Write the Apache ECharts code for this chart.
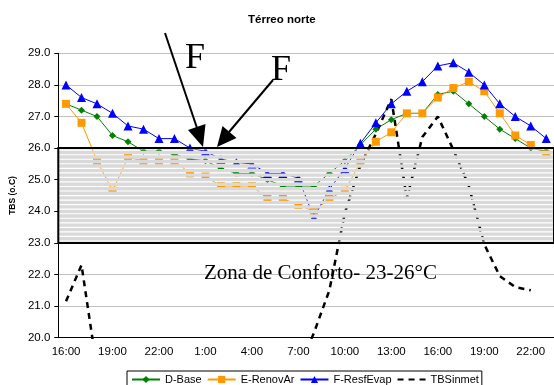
<!DOCTYPE html>
<html><head><meta charset="utf-8">
<script src="https://cdn.jsdelivr.net/npm/echarts@6/dist/echarts.min.js"></script>
<style>html,body{margin:0;padding:0;background:#fff}#c{width:554px;height:385px}</style>
</head><body><div id="c"></div>
<script>
const hours = ['16:00','17:00','18:00','19:00','20:00','21:00','22:00','23:00','0:00','1:00','2:00','3:00','4:00','5:00','6:00','7:00','8:00','9:00','10:00','11:00','12:00','13:00','14:00','15:00','16:00','17:00','18:00','19:00','20:00','21:00','22:00','23:00'];
const dBase = [27.4,27.2,27.0,26.4,26.2,25.9,25.9,25.8,25.65,25.6,25.35,25.2,25.2,25.0,24.8,24.8,24.8,25.2,25.6,26.1,26.6,26.9,27.1,27.1,27.7,27.8,27.4,27.0,26.6,26.3,26.0,25.9];
const eRenovAr = [27.4,26.8,25.6,24.65,25.7,25.6,25.6,25.6,25.2,25.1,24.8,24.8,24.8,24.4,24.4,24.2,24.0,24.4,24.65,25.55,26.2,26.5,27.1,27.1,27.6,27.9,28.1,27.8,27.1,26.4,26.1,25.8];
const fResfEvap = [28.0,27.6,27.4,27.1,26.7,26.6,26.3,26.3,26.0,25.9,25.65,25.55,25.5,25.2,25.2,25.05,23.8,24.7,25.35,26.15,26.8,27.4,27.8,28.1,28.6,28.7,28.4,28.0,27.4,27.0,26.7,26.3];
const tbsInmet = [21.15,22.3,19.0,null,null,null,null,null,null,null,null,null,null,null,null,19.0,20.15,21.5,23.95,25.45,26.45,27.55,24.4,26.35,27.0,25.95,24.8,22.95,21.95,21.6,21.5,null];
const seriesNames = ['D-Base','E-RenovAr','F-ResfEvap','TBSinmet'];
const zoneRange = [23, 26];

// striped comfort-zone overlay (grey bands with thin transparent gaps)
const bands = [];
const gapH = 0.036, step = 0.1437;
const gaps = [];
for (let c = zoneRange[1] - 0.065; c > zoneRange[0] + 0.06; c -= step) gaps.push(c);
let hi = zoneRange[1];
gaps.forEach(c => {
  bands.push([{yAxis: c + gapH/2, itemStyle:{color:'#d9d9d9', borderWidth:0}}, {yAxis: hi}]);
  hi = c - gapH/2;
});
bands.push([{yAxis: zoneRange[0], itemStyle:{color:'#d9d9d9', borderWidth:0}}, {yAxis: hi}]);
bands.push([{yAxis: zoneRange[0], itemStyle:{color:'rgba(0,0,0,0)', borderColor:'#000', borderWidth:2}}, {yAxis: zoneRange[1]}]);

const chart = echarts.init(document.getElementById('c'));
const font = 'Liberation Sans';
chart.setOption({
  animation: false,
  backgroundColor: '#fff',
  title: {text:'Térreo norte', left:243, top:9, textStyle:{fontSize:11.5, fontWeight:'bold', color:'#000', fontFamily:font}},
  grid: {left:56, top:53.3, width:500, height:284.4},
  legend: {data: [seriesNames[0], seriesNames[1], seriesNames[2], {name: seriesNames[3], itemStyle:{opacity:0}}],
    left:127, top:371, padding:[3,3,3,4], itemGap:5, itemWidth:28, itemHeight:9,
    borderColor:'#000', borderWidth:1, borderRadius:0,
    textStyle:{fontSize:11, color:'#000', fontFamily:font}},
  xAxis: {type:'category', data: hours, boundaryGap:true,
    axisLine:{lineStyle:{color:'#000', width:1}},
    axisTick:{interval:0, length:5, lineStyle:{color:'#000'}},
    axisLabel:{interval:2, fontSize:11.5, color:'#000', margin:8, fontFamily:font},
    splitLine:{show:false}},
  yAxis: {type:'value', min:20, max:29, interval:1,
    name:'TBS (o.C)', nameLocation:'middle', nameGap:40,
    nameTextStyle:{fontWeight:'bold', fontSize:8.5, color:'#000', fontFamily:font},
    axisLine:{show:true, lineStyle:{color:'#000', width:1}},
    axisTick:{show:true, length:4, lineStyle:{color:'#000'}},
    axisLabel:{formatter: v => v.toFixed(1), fontSize:11.5, color:'#000', margin:8, fontFamily:font},
    splitLine:{lineStyle:{color:'#c0c0c0', width:1}}},
  series: [
    {name:seriesNames[0], type:'line', data:dBase, color:'#008000', symbol:'diamond', symbolSize:7, lineStyle:{width:1}, z:2},
    {name:seriesNames[1], type:'line', data:eRenovAr, color:'#FF9900', symbol:'rect', symbolSize:8, lineStyle:{width:1}, z:2},
    {name:seriesNames[2], type:'line', data:fResfEvap, color:'#0000FF', symbol:'triangle', symbolSize:9, lineStyle:{width:1}, z:2},
    {name:seriesNames[3], type:'line', data:tbsInmet, color:'#000', symbol:'none', showSymbol:false, lineStyle:{width:2.5, type:[6,5]}, z:2},
    {name:'zone', type:'line', data: hours.map(() => null), symbol:'none', silent:true,
      markArea:{silent:true, z:10, data: bands}}
  ],
  graphic: [
    {type:'text', x:185, y:59, z:100, style:{text:'F', fontSize:36, fontFamily:'Liberation Serif', fill:'#000', verticalAlign:'middle', align:'left'}},
    {type:'text', x:271, y:71, z:100, style:{text:'F', fontSize:36, fontFamily:'Liberation Serif', fill:'#000', verticalAlign:'middle', align:'left'}},
    {type:'text', x:204, y:273, z:100, style:{text:'Zona de Conforto- 23-26°C', fontSize:21, fontFamily:'Liberation Serif', fill:'#000', verticalAlign:'middle', align:'left'}},
    {type:'line', z:100, shape:{x1:165, y1:33, x2:197, y2:128}, style:{stroke:'#000', lineWidth:2}},
    {type:'polygon', z:100, shape:{points:[[188,130],[205.5,124],[203,147]]}, style:{fill:'#000'}},
    {type:'line', z:100, shape:{x1:273, y1:80, x2:229, y2:132}, style:{stroke:'#000', lineWidth:2}},
    {type:'polygon', z:100, shape:{points:[[222.5,126],[236.5,138],[217,147]]}, style:{fill:'#000'}}
  ]
});
</script></body></html>
